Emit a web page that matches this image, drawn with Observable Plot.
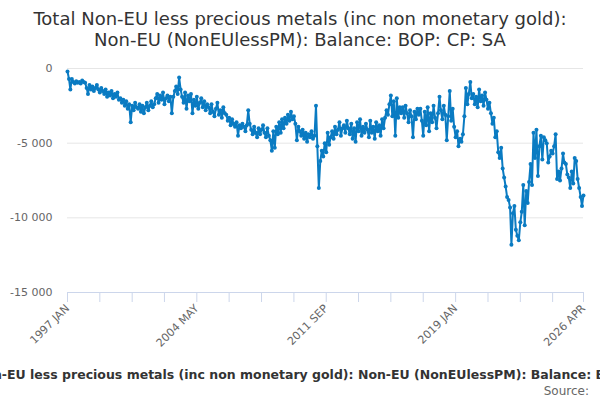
<!DOCTYPE html>
<html>
<head>
<meta charset="utf-8">
<script src="https://cdn.jsdelivr.net/npm/d3@7"></script>
<script src="https://cdn.jsdelivr.net/npm/@observablehq/plot@0.6"></script>
<style>
  body { margin: 0; background: #fff; font-family: "DejaVu Sans", sans-serif; }
  #wrap { position: relative; width: 600px; height: 400px; overflow: hidden; }
  #chart { position: absolute; left: 0; top: 0; }
  #title { position: absolute; top: 8px; left: 0; width: 600px; text-align: center;
           font-size: 18px; line-height: 21px; color: #333; }
  #caption { position: absolute; top: 367px; left: 308px; transform: translateX(-50%);
             white-space: nowrap; font-size: 12.5px; line-height: 15px; font-weight: bold; color: #333; }
  #source { position: absolute; top: 384px; right: 11px; font-size: 12px; line-height: 14px; color: #666; }
</style>
</head>
<body>
<div id="wrap">
  <div id="chart"></div>
  <div id="title">Total Non-EU less precious metals (inc non monetary gold):<br>Non-EU (NonEUlessPM): Balance: BOP: CP: SA</div>
  <div id="caption">Total Non-EU less precious metals (inc non monetary gold): Non-EU (NonEUlessPM): Balance: BOP: CP: SA</div>
  <div id="source">Source:</div>
</div>
<script>
// monthly balance, £ million, from 1997 JAN to 2026 APR (one row per year)
const startYear = 1997;
const balance = [
  -200, -700, -1400, -700, -900, -1000, -850, -950, -900, -1000, -800, -900,
  -950, -1300, -1700, -1100, -1400, -1200, -1500, -1300, -1100, -1400, -1600, -1300,
  -1500, -1700, -1400, -1900, -1600, -1800, -1500, -2000, -1700, -1900, -1600, -2100,
  -2000, -2300, -2100, -2500, -2200, -2700, -2400, -3600, -2500, -2800, -2300, -2600,
  -2700, -2400, -2900, -2500, -3000, -2600, -2300, -2800, -2500, -2200, -2600, -2400,
  -2000, -1700, -2300, -1800, -2100, -1600, -2400, -2000, -1800, -2200, -1900, -3000,
  -1900, -1500, -1200, -1700, -600, -1400, -1900, -2300, -1600, -2700, -1800, -2200,
  -1700, -3000, -2100, -2500, -1900, -2700, -2300, -2000, -2600, -2200, -2800, -2400,
  -2600, -3000, -2400, -2900, -3200, -2700, -2300, -3100, -2800, -3300, -2600, -3000,
  -3100, -3500, -3300, -3800, -3400, -3700, -3900, -3600, -4500, -3800, -4000, -3700,
  -3900, -4200, -3800, -2800, -3700, -4100, -4400, -3900, -4300, -4600, -4000, -4400,
  -4100, -3800, -4300, -4600, -4000, -4500, -4800, -5500, -4200, -5300, -3900, -4400,
  -3600, -4300, -3400, -4000, -3300, -3700, -3100, -3500, -2900, -3400, -3200, -3700,
  -4800, -3900, -4200, -4500, -4100, -4700, -4300, -4900, -4400, -4600, -4200, -4700,
  -4500, -2500, -5200, -8000, -6200, -5500, -5900, -5000, -5600, -4300, -5100, -4600,
  -4200, -4700, -3900, -4400, -4100, -3600, -4500, -4000, -3800, -4300, -3500, -4000,
  -4400, -3700, -4700, -4000, -4900, -3600, -4200, -3400, -4500, -3900, -4300, -3700,
  -4100, -4600, -3500, -4300, -3900, -4700, -3600, -4200, -3800, -4500, -3400, -4000,
  -3300, -2800, -3100, -2400, -1800, -3200, -2200, -4500, -2000, -3300, -2600, -3000,
  -2600, -3300, -2500, -3000, -3600, -2800, -3200, -4600, -2900, -3400, -2700, -3100,
  -2700, -3500, -4500, -2900, -3800, -2600, -4200, -3000, -3600, -2500, -3300, -4000,
  -3000, -1900, -2800, -3400, -2500, -3100, -4800, -3200, -1500, -3500, -2700, -3900,
  -4600, -4200, -5200, -4700, -4900, -4400, -3200, -1300, -2400, -1700, -900, -2000,
  -1700, -2400, -1900, -2600, -1400, -2200, -1800, -2500, -1600, -2100, -2700, -2300,
  -3000, -3700, -3300, -4600, -4200, -5600, -6000, -5300, -6700, -7300, -7900, -8600,
  -8800, -9300, -11800, -9700, -9200, -10800, -11200, -11500, -10300, -9600, -7800, -10500,
  -8200, -9000, -7600, -6400, -7800, -4300, -6000, -4100, -7200, -5200, -4500, -6100,
  -4600, -4800, -5000, -6300, -5900, -5500, -5700, -5200, -4400, -7400, -6900, -7500,
  -6700, -5700, -6300, -6400, -7100, -7300, -8000, -6900, -7700, -6000, -6200, -7400,
  -8000, -8600, -9200, -8500
];
const yTicks = [0, -5000, -10000, -15000];
const tickStep = 22;          // months between x ticks
const labelEvery = 4;         // every 4th tick carries a label

const lineColor = "#0a7bc2";

const data = balance.map((v, i) => ({date: new Date(Date.UTC(startYear, i, 1)), value: v}));
const last = data.length - 1;

const tickIdx = d3.range(0, last, tickStep).concat([last]);
const tickDates = tickIdx.map((i) => data[i].date);
const labelDates = tickIdx.filter((d, k) => k % labelEvery === 0).map((i) => data[i].date);

const fmtY = (d) => String(d).replace(/\B(?=(\d{3})+(?!\d))/g, " ");
const fmtX = (d) => d3.utcFormat("%Y %b")(d).toUpperCase();

const chart = Plot.plot({
  width: 600,
  height: 400,
  marginTop: 68,
  marginBottom: 108,
  marginLeft: 67,
  marginRight: 17,
  style: {fontFamily: "DejaVu Sans", fontSize: "11px", background: "transparent"},
  x: {type: "utc", domain: [data[0].date, data[last].date]},
  y: {domain: [-15000, 0]},
  marks: [
    Plot.gridY([0, -5000, -10000], {stroke: "#e6e6e6", strokeOpacity: 1}),
    Plot.ruleY([-15000], {stroke: "#ccd6eb"}),
    Plot.axisY({ticks: yTicks, tickSize: 0, tickPadding: 15, tickFormat: fmtY, fill: "#666", label: null}),
    Plot.axisX({ticks: tickDates, tickSize: 10, tickFormat: () => "", stroke: "#ccd6eb", label: null}),
    Plot.axisX({ticks: labelDates, tickSize: 0, tickPadding: 14, tickRotate: -45, tickFormat: fmtX, fill: "#666", label: null}),
    Plot.line(data, {x: "date", y: "value", stroke: lineColor, strokeWidth: 2}),
    Plot.dot(data, {x: "date", y: "value", r: 2, fill: lineColor})
  ]
});
document.getElementById("chart").append(chart);
</script>
</body>
</html>
